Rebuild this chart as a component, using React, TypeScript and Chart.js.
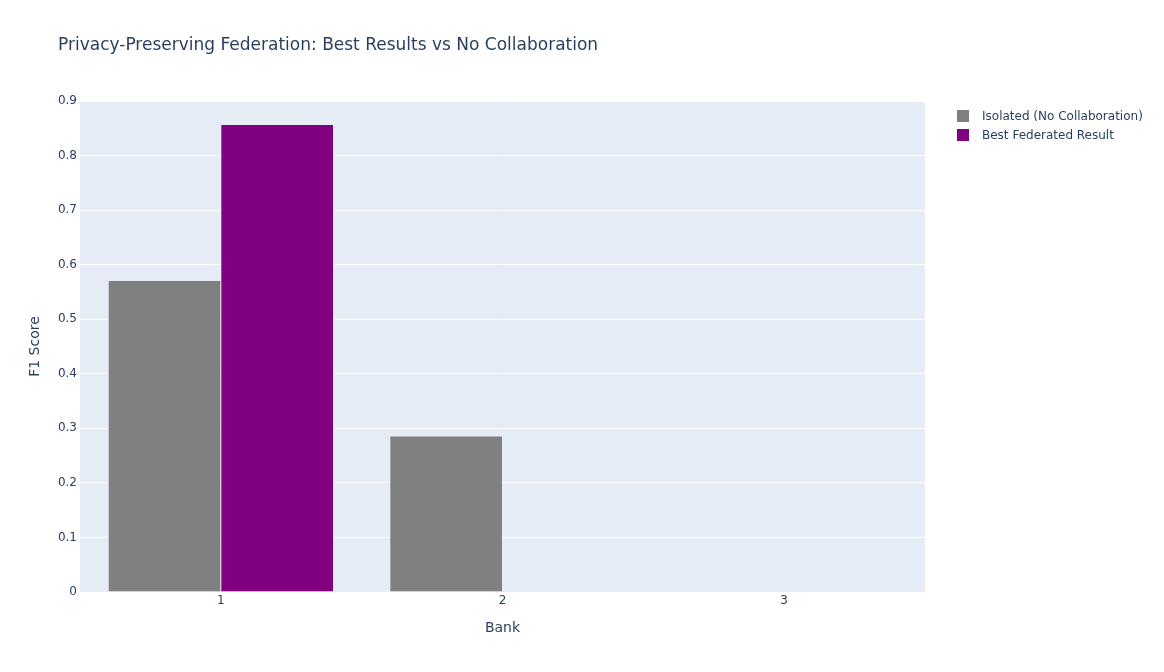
import React, { useEffect, useRef } from 'react';
import { Chart, registerables } from 'chart.js';

Chart.register(...registerables);

const banks = ['1', '2', '3'];
const isolatedF1 = [0.571, 0.286, 0];
const federatedF1 = [0.857, 0, 0];
const seriesNames = ['Isolated (No Collaboration)', 'Best Federated Result'];
const seriesColors = ['#808080', '#800080'];

const FONT = '"DejaVu Sans", verdana, arial, sans-serif';
const INK = '#2a3f5f';

// fills the plot area like plotly's light blue background
const plotBg = {
  id: 'plotBg',
  beforeDraw(chart: Chart) {
    const { ctx, chartArea } = chart;
    ctx.save();
    ctx.fillStyle = '#E5ECF6';
    ctx.fillRect(chartArea.left, chartArea.top, chartArea.width, chartArea.height);
    ctx.restore();
  },
};

const App: React.FC = () => {
  const chartRef = useRef<HTMLCanvasElement>(null);
  const chartInstance = useRef<Chart | null>(null);

  useEffect(() => {
    document.body.style.margin = '0';
    if (!chartRef.current) return;
    if (chartInstance.current) chartInstance.current.destroy();

    chartInstance.current = new Chart(chartRef.current, {
      type: 'bar',
      data: {
        labels: banks,
        datasets: [
          {
            label: seriesNames[0],
            data: isolatedF1,
            backgroundColor: seriesColors[0],
            borderColor: '#E5ECF6',
            borderWidth: 0.5,
          },
          {
            label: seriesNames[1],
            data: federatedF1,
            backgroundColor: seriesColors[1],
            borderColor: '#E5ECF6',
            borderWidth: 0.5,
          },
        ],
      },
      options: {
        responsive: false,
        animation: false,
        layout: { padding: { top: 101, right: 239, left: 0, bottom: 0 } },
        datasets: { bar: { categoryPercentage: 0.8, barPercentage: 1.0 } },
        plugins: {
          legend: { display: false },
          tooltip: { enabled: false },
        },
        scales: {
          x: {
            grid: { display: false, drawTicks: false },
            border: { display: false },
            ticks: { color: INK, font: { family: FONT, size: 12 }, padding: 2 },
            title: {
              display: true,
              text: 'Bank',
              color: INK,
              font: { family: FONT, size: 14 },
              padding: { top: 0, bottom: 35 },
            },
            afterFit: (scale: any) => {
              scale.height = 80;
            },
          },
          y: {
            min: 0,
            max: 0.9,
            grid: { color: '#ffffff', lineWidth: 1, drawTicks: false },
            border: { display: false },
            ticks: { stepSize: 0.1, color: INK, font: { family: FONT, size: 12 }, padding: 3 },
            title: {
              display: true,
              text: 'F1 Score',
              color: INK,
              font: { family: FONT, size: 14 },
              padding: { top: 27, bottom: 0 },
            },
            afterFit: (scale: any) => {
              scale.width = 80;
            },
          },
        },
      },
      plugins: [plotBg],
    });

    return () => {
      if (chartInstance.current) {
        chartInstance.current.destroy();
        chartInstance.current = null;
      }
    };
  }, []);

  return (
    <div style={{ position: 'relative', width: 1164, height: 672, background: '#fff', fontFamily: FONT }}>
      <canvas ref={chartRef} width={1164} height={672} style={{ display: 'block' }} />
      <div
        style={{
          position: 'absolute',
          left: 58,
          top: 32,
          fontSize: 17,
          color: INK,
          lineHeight: '24px',
          whiteSpace: 'nowrap',
        }}
      >
        Privacy-Preserving Federation: Best Results vs No Collaboration
      </div>
      <div style={{ position: 'absolute', left: 957, top: 106 }}>
        {seriesNames.map((name, i) => (
          <div key={name} style={{ display: 'flex', alignItems: 'center', height: 19 }}>
            <span style={{ width: 12, height: 12, background: seriesColors[i], display: 'inline-block' }} />
            <span style={{ marginLeft: 13, fontSize: 12, color: INK, whiteSpace: 'nowrap' }}>{name}</span>
          </div>
        ))}
      </div>
    </div>
  );
};

export default App;
